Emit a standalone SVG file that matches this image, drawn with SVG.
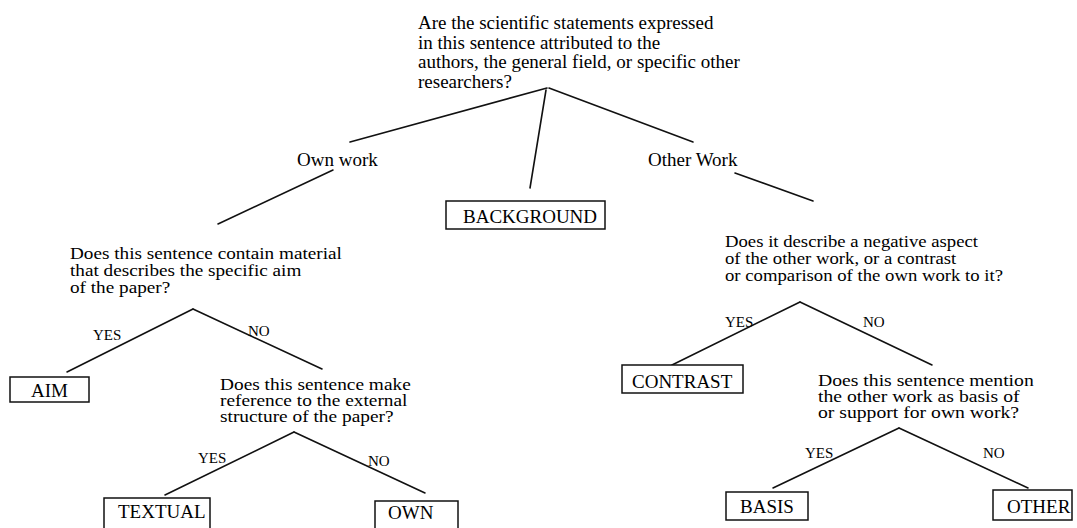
<svg xmlns="http://www.w3.org/2000/svg" width="1077" height="528" viewBox="0 0 1077 528">
<style>
text{font-family:"Liberation Serif","Times New Roman",serif;fill:#000;}
.q{font-size:19px;}
.q17{font-size:17px;}
.q16{font-size:16px;}
.lab{font-size:15px;}
.box rect{fill:#fff;stroke:#111;stroke-width:1.5;}
.box text{font-size:19px;}
#connectors line{stroke:#111;stroke-width:1.6;stroke-linecap:round;}
</style>
<rect width="1077" height="528" fill="#fff"/>
<g id="connectors">
<line x1="547" y1="88" x2="350" y2="142"/>
<line x1="546" y1="90" x2="530" y2="188"/>
<line x1="549" y1="88" x2="693" y2="142"/>
<line x1="333" y1="170" x2="218" y2="224"/>
<line x1="735" y1="173" x2="813" y2="201"/>
<line x1="193" y1="309" x2="67" y2="372"/>
<line x1="193" y1="309" x2="322" y2="369"/>
<line x1="294" y1="432" x2="165" y2="495"/>
<line x1="294" y1="432" x2="425" y2="493"/>
<line x1="800" y1="302" x2="672" y2="365"/>
<line x1="800" y1="302" x2="932" y2="365"/>
<line x1="899" y1="428" x2="773" y2="488"/>
<line x1="899" y1="428" x2="1028" y2="488"/>
</g>
<g id="root-question">
<text class="q"><tspan x="418" y="29">Are the scientific statements expressed</tspan><tspan x="418" y="49">in this sentence attributed to the</tspan><tspan x="418" y="68">authors, the general field, or specific other</tspan><tspan x="418" y="88">researchers?</tspan></text>
</g>
<g id="own-work"><text class="q" x="297" y="166">Own work</text></g>
<g id="other-work"><text class="q" x="648" y="166">Other Work</text></g>
<g id="background" class="box">
<rect x="446" y="201" width="159" height="28"/>
<text x="463" y="223">BACKGROUND</text>
</g>
<g id="aim-question">
<text class="q17" transform="translate(70 0) scale(1.13 1)"><tspan x="0" y="259">Does this sentence contain material</tspan><tspan x="0" y="276">that describes the specific aim</tspan><tspan x="0" y="293">of the paper?</tspan></text>
<text class="lab" x="93" y="340">YES</text>
<text class="lab" x="248" y="336">NO</text>
</g>
<g id="aim" class="box">
<rect x="10" y="377" width="79" height="25"/>
<text x="49.5" y="397" text-anchor="middle">AIM</text>
</g>
<g id="textual-question">
<text class="q16" transform="translate(220 0) scale(1.21 1)"><tspan x="0" y="390">Does this sentence make</tspan><tspan x="0" y="406">reference to the external</tspan><tspan x="0" y="422">structure of the paper?</tspan></text>
<text class="lab" x="198" y="463">YES</text>
<text class="lab" x="368" y="466">NO</text>
</g>
<g id="textual" class="box">
<rect x="104" y="498" width="106" height="32"/>
<text x="118" y="518">TEXTUAL</text>
</g>
<g id="own" class="box">
<rect x="375" y="501" width="83" height="30"/>
<text x="388" y="519">OWN</text>
</g>
<g id="contrast-question">
<text class="q16" transform="translate(725 0) scale(1.17 1)"><tspan x="0" y="247">Does it describe a negative aspect</tspan><tspan x="0" y="264">of the other work, or a contrast</tspan><tspan x="0" y="281">or comparison of the own work to it?</tspan></text>
<text class="lab" x="725" y="327">YES</text>
<text class="lab" x="863" y="327">NO</text>
</g>
<g id="contrast" class="box">
<rect x="622" y="365" width="121" height="28"/>
<text x="632" y="388">CONTRAST</text>
</g>
<g id="basis-question">
<text class="q16" transform="translate(818 0) scale(1.23 1)"><tspan x="0" y="386">Does this sentence mention</tspan><tspan x="0" y="402">the other work as basis of</tspan><tspan x="0" y="418">or support for own work?</tspan></text>
<text class="lab" x="805" y="458">YES</text>
<text class="lab" x="983" y="458">NO</text>
</g>
<g id="basis" class="box">
<rect x="726" y="492" width="82" height="28"/>
<text x="740" y="513">BASIS</text>
</g>
<g id="other" class="box">
<rect x="993" y="490" width="79" height="30"/>
<text x="1007" y="513">OTHER</text>
</g>
</svg>
